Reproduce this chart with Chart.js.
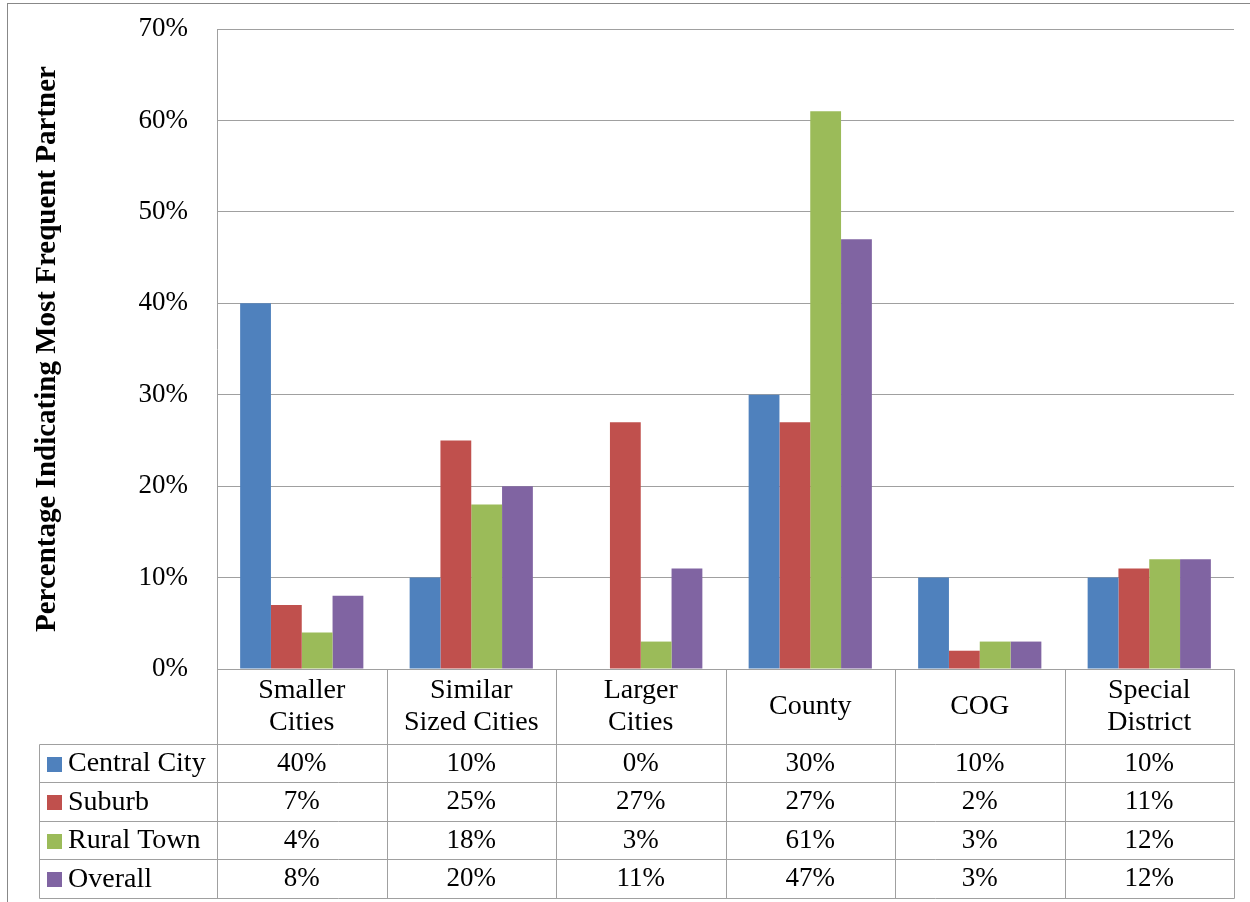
<!DOCTYPE html>
<html>
<head>
<meta charset="utf-8">
<script src="https://cdn.jsdelivr.net/npm/chart.js@4.4.0/dist/chart.umd.min.js"></script>
<style>
  html, body { margin: 0; padding: 0; background: #fff; }
  #wrap { width: 1250px; height: 902px; position: relative; }
</style>
</head>
<body>
<div id="wrap"><canvas id="chart"></canvas></div>
<script>
// Данные
const categories = [["Smaller", "Cities"], ["Similar", "Sized Cities"], ["Larger", "Cities"], ["County"], ["COG"], ["Special", "District"]];
const seriesNames = ["Central City", "Suburb", "Rural Town", "Overall"];
const centralCity = [40, 10, 0, 30, 10, 10];
const suburb = [7, 25, 27, 27, 2, 11];
const ruralTown = [4, 18, 3, 61, 3, 12];
const overall = [8, 20, 11, 47, 3, 12];
const seriesColors = ["#4F81BD", "#C0504D", "#9BBB59", "#8064A2"];
const yTitle = "Percentage Indicating Most Frequent Partner";

const FONT = "'Liberation Serif', 'Times New Roman', serif";
const LINE = "#a0a0a0";

// Таблица данных под графиком
const dataTable = {
  id: "dataTable",
  afterDraw(chart) {
    const ctx = chart.ctx;
    const area = chart.chartArea;
    const xs = chart.scales.x;
    const n = chart.data.labels.length;
    const colW = (area.right - area.left) / n;
    const top = Math.round(area.bottom) + 0.5;
    const headerBottom = top + 74;
    const rowH = 38.5;
    const bottom = headerBottom + rowH * 4;
    const legendLeft = 39.5;
    const right = Math.round(area.right) + 0.5;

    ctx.save();
    ctx.strokeStyle = LINE;
    ctx.lineWidth = 1;
    ctx.beginPath();
    // верхняя линия (ось x)
    ctx.moveTo(Math.round(area.left) + 0.5, top);
    ctx.lineTo(right, top);
    // горизонтальные линии строк
    for (let r = 0; r <= 4; r++) {
      const y = Math.round(headerBottom + r * rowH) + 0.5;
      ctx.moveTo(legendLeft, y);
      ctx.lineTo(right, y);
    }
    // вертикальные линии
    for (let i = 0; i <= n; i++) {
      const x = Math.round(area.left + i * colW) + 0.5;
      ctx.moveTo(x, top);
      ctx.lineTo(x, Math.round(bottom) + 0.5);
    }
    ctx.moveTo(legendLeft, Math.round(headerBottom) + 0.5);
    ctx.lineTo(legendLeft, Math.round(bottom) + 0.5);
    ctx.stroke();

    ctx.fillStyle = "#000";
    ctx.font = "28px " + FONT;
    ctx.textAlign = "center";
    ctx.textBaseline = "middle";
    // подписи категорий
    chart.data.labels.forEach((lab, i) => {
      const cx = xs.getPixelForValue(i);
      const lines = Array.isArray(lab) ? lab : [lab];
      const lh = 32;
      const cy = (top + headerBottom) / 2;
      lines.forEach((t, k) => {
        ctx.fillText(t, cx, cy + (k - (lines.length - 1) / 2) * lh);
      });
    });
    // строки серий
    chart.data.datasets.forEach((ds, r) => {
      const cy = headerBottom + rowH * r + rowH / 2 + 1;
      ctx.fillStyle = ds.backgroundColor;
      ctx.fillRect(47, Math.round(cy - 7), 15, 15);
      ctx.fillStyle = "#000";
      ctx.font = "28px " + FONT;
      ctx.textAlign = "left";
      ctx.fillText(ds.label, 68, cy);
      ctx.font = "27px " + FONT;
      ctx.textAlign = "center";
      ds.data.forEach((v, i) => {
        ctx.fillText(v + "%", xs.getPixelForValue(i), cy);
      });
    });

    // рамка всего графика
    ctx.strokeStyle = "#888";
    ctx.strokeRect(7.5, 3.5, 1400, 1000);
    ctx.restore();
  }
};

const ctx = document.getElementById("chart").getContext("2d");
new Chart(ctx, {
  type: "bar",
  data: {
    labels: categories,
    datasets: [
      { label: seriesNames[0], data: centralCity, backgroundColor: seriesColors[0] },
      { label: seriesNames[1], data: suburb, backgroundColor: seriesColors[1] },
      { label: seriesNames[2], data: ruralTown, backgroundColor: seriesColors[2] },
      { label: seriesNames[3], data: overall, backgroundColor: seriesColors[3] },
    ],
  },
  options: {
    responsive: true,
    maintainAspectRatio: false,
    animation: false,
    datasets: { bar: { categoryPercentage: 0.727, barPercentage: 1, borderWidth: 0 } },
    layout: { padding: { left: 30, top: 29, right: 16, bottom: 233 } },
    scales: {
      x: { display: false },
      y: {
        min: 0,
        max: 70,
        afterFit: (scale) => { scale.width = 187; },
        ticks: {
          stepSize: 10,
          padding: 0,
          color: "#000",
          font: { family: FONT, size: 27 },
          callback: (v) => v + "%",
        },
        // невидимые засечки задают отступ подписей от оси
        grid: { color: LINE, drawTicks: true, tickLength: 29, tickColor: "rgba(0,0,0,0)" },
        border: { color: LINE },
        title: {
          display: true,
          text: yTitle,
          color: "#000",
          font: { family: FONT, size: 29, weight: "bold" },
          padding: { top: 0, bottom: 0 },
        },
      },
    },
    plugins: {
      legend: { display: false },
      tooltip: { enabled: false },
    },
  },
  plugins: [dataTable],
});
</script>
</body>
</html>
